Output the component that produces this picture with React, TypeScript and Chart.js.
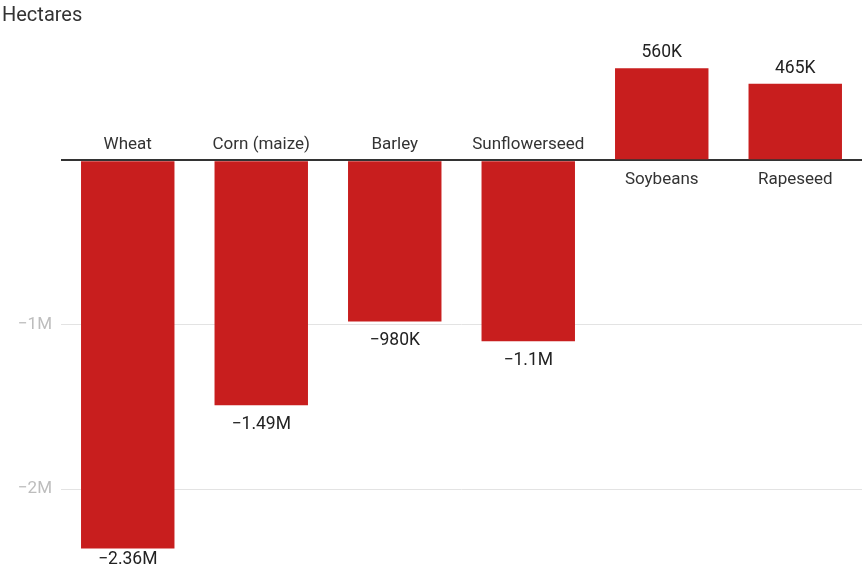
import React, { useEffect, useRef } from "react";
import { Chart, registerables } from "chart.js";

Chart.register(...registerables);

const categories = ["Wheat", "Corn (maize)", "Barley", "Sunflowerseed", "Soybeans", "Rapeseed"];
const values = [-2360000, -1490000, -980000, -1100000, 560000, 465000];
const tickValues = [-2000000, -1000000, 0];
const yMin = -2405000;
const yMax = 750000;
const unitTitle = "Hectares";

const FONT = "Roboto, 'Noto Sans', sans-serif";
const BAR_COLOR = "#c81e1e";

function fmt(v: number): string {
  const sign = v < 0 ? "\u2212" : "";
  const a = Math.abs(v);
  if (a >= 1e6) return sign + parseFloat((a / 1e6).toFixed(2)) + "M";
  if (a >= 1e3) return sign + parseFloat((a / 1e3).toFixed(1)) + "K";
  return sign + a;
}

const labelPlugin = {
  id: "labelPlugin",
  afterDatasetsDraw(chart: any) {
    const ctx = chart.ctx;
    const meta = chart.getDatasetMeta(0);
    const zeroY = chart.scales.y.getPixelForValue(0);
    ctx.save();
    ctx.textAlign = "center";
    ctx.textBaseline = "alphabetic";
    meta.data.forEach((bar: any, i: number) => {
      const v = values[i];
      ctx.fillStyle = "#333333";
      ctx.font = `17px ${FONT}`;
      if (v < 0) {
        ctx.fillText(categories[i], bar.x, zeroY - 11);
        ctx.fillStyle = "#222222";
        ctx.font = `17.5px ${FONT}`;
        ctx.fillText(fmt(v), bar.x, Math.min(bar.y + 24, chart.height - 11));
      } else {
        ctx.fillText(categories[i], bar.x, zeroY + 24);
        ctx.fillStyle = "#222222";
        ctx.font = `17.5px ${FONT}`;
        ctx.fillText(fmt(v), bar.x, bar.y - 11);
      }
    });
    ctx.fillStyle = "#333333";
    ctx.font = `20px ${FONT}`;
    ctx.textAlign = "left";
    ctx.fillText(unitTitle, 2, 21);
    ctx.restore();
  },
};

export default function App() {
  const ref = useRef<HTMLCanvasElement>(null);
  useEffect(() => {
    const chart = new Chart(ref.current!, {
      type: "bar",
      data: {
        labels: categories,
        datasets: [
          {
            data: values,
            backgroundColor: BAR_COLOR,
            borderWidth: 0,
            barPercentage: 0.7,
            categoryPercentage: 1,
          },
        ],
      },
      options: {
        responsive: false,
        animation: false,
        events: [],
        layout: { padding: { top: 37, bottom: 5, left: 0, right: 1 } },
        plugins: { legend: { display: false }, tooltip: { enabled: false } },
        scales: {
          x: { display: false },
          y: {
            min: yMin,
            max: yMax,
            afterBuildTicks(scale: any) {
              scale.ticks = tickValues.map((v) => ({ value: v }));
            },
            afterFit(scale: any) {
              scale.width = 61;
            },
            border: { display: false },
            grid: {
              drawTicks: false,
              color: (c: any) => (c.tick && c.tick.value === 0 ? "#333333" : "#e3e3e3"),
              lineWidth: (c: any) => (c.tick && c.tick.value === 0 ? 2 : 1),
            },
            ticks: {
              padding: 9,
              color: "#bdbdbd",
              font: { family: FONT, size: 17 },
              callback: (v: any) => (Number(v) === 0 ? "" : fmt(Number(v))),
            },
          },
        },
      },
      plugins: [labelPlugin],
    });
    return () => chart.destroy();
  }, []);
  return (
    <div style={{ position: "absolute", left: 0, top: 0, width: 863, height: 575, background: "#fff" }}>
      <canvas ref={ref} width={863} height={575} />
    </div>
  );
}
